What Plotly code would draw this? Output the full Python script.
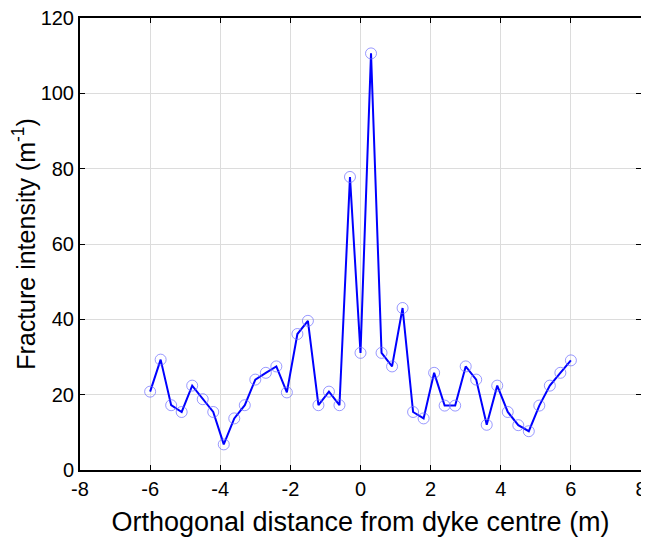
import plotly.graph_objects as go

distance = [-6.0, -5.7, -5.4, -5.1, -4.8, -4.5, -4.2, -3.9, -3.6, -3.3, -3.0,
            -2.7, -2.4, -2.1, -1.8, -1.5, -1.2, -0.9, -0.6, -0.3, 0.0,
            0.3, 0.6, 0.9, 1.2, 1.5, 1.8, 2.1, 2.4, 2.7, 3.0,
            3.3, 3.6, 3.9, 4.2, 4.5, 4.8, 5.1, 5.4, 5.7, 6.0]
intensity = [20.8, 29.3, 17.2, 15.4, 22.4, 18.8, 15.4, 6.8, 13.7, 17.2, 24.0,
             25.8, 27.5, 20.6, 36.1, 39.6, 17.2, 20.8, 17.2, 77.8, 31.1,
             110.6, 31.1, 27.5, 43.0, 15.4, 13.7, 25.8, 17.1, 17.1, 27.5,
             24.0, 12.0, 22.4, 15.4, 11.9, 10.3, 17.1, 22.4, 25.8, 29.1]
x_ticks = [-8, -6, -4, -2, 0, 2, 4, 6, 8]
y_ticks = [0, 20, 40, 60, 80, 100, 120]

FONT = "Liberation Sans, Arial, sans-serif"

fig = go.Figure()
fig.add_trace(go.Scatter(
    x=distance, y=intensity, mode="lines+markers",
    line=dict(color="#0000ff", width=2),
    marker=dict(symbol="circle-open", size=11,
                color="rgba(110,110,255,0.7)", line=dict(width=1)),
    showlegend=False,
))

axis_common = dict(
    showline=True, linecolor="black", linewidth=2, mirror="ticks",
    ticks="inside", ticklen=5, tickcolor="black", tickwidth=1,
    showgrid=True, gridcolor="#dcdcdc", gridwidth=1, zeroline=False,
    tickfont=dict(family=FONT, size=20, color="black"),
    ticklabeloverflow="allow",
    automargin=False,
)

fig.update_xaxes(range=[-8, 8], tickvals=x_ticks, ticktext=[str(v) for v in x_ticks],
                 title=dict(text="Orthogonal distance from dyke centre (m)",
                            font=dict(family=FONT, size=27, color="black")),
                 **axis_common)
fig.update_yaxes(range=[0, 120], tickvals=y_ticks, ticktext=[str(v) for v in y_ticks],
                 title=dict(text="Fracture intensity (m<sup>-1</sup>)",
                            font=dict(family=FONT, size=25, color="black")),
                 **axis_common)

# the page body adds an 8px offset, so the figure is sized to the remaining window
fig.update_layout(
    width=641, height=529,
    margin=dict(l=72, r=8, t=10, b=67),
    plot_bgcolor="white", paper_bgcolor="white",
)

fig.write_html("out.html")
